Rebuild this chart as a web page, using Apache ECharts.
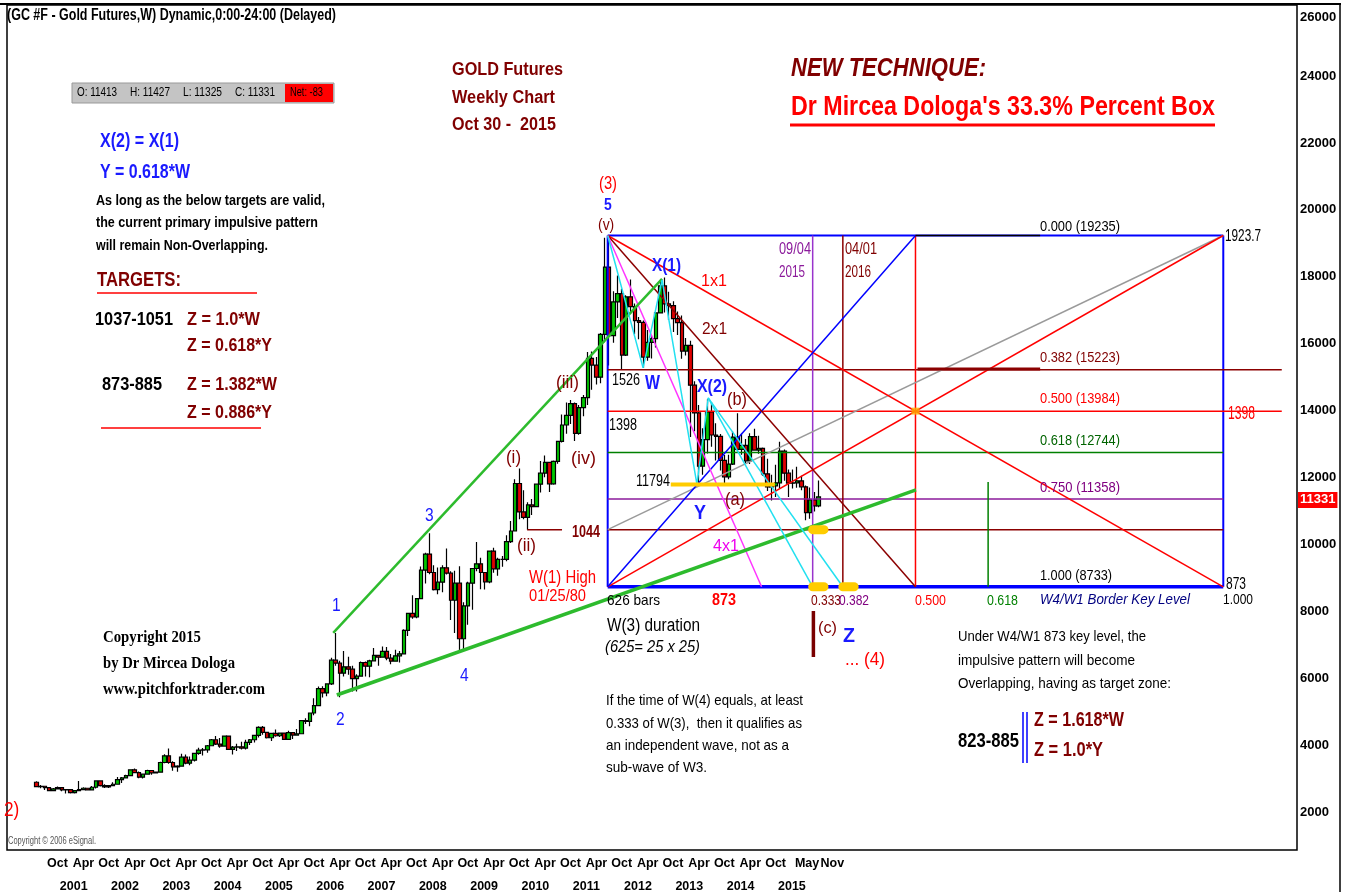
<!DOCTYPE html>
<html><head><meta charset="utf-8">
<script src="https://cdn.jsdelivr.net/npm/echarts@6/dist/echarts.min.js"></script>
<style>html,body{margin:0;padding:0;background:#fff}#c{width:1345px;height:892px}</style>
</head><body><div id="c"></div>
<script>
const FONT = "'Liberation Sans',Arial,sans-serif";
const SERIF = "'Liberation Serif','DejaVu Serif',serif";

// ---- monthly gold futures OHLC, [open, high, low, close] in USD (chart units = USD x 10)
const PRICE_UNIT = 10;
const startYear = 2000, startMonth = 7;
const gold2000 = [[289,292,274,276],[276,281,271,277],[277,277,266,273],[273,274,263,264],[264,272,263,269],[269,276,267,273]];
const gold2001 = [[273,273,262,266],[266,268,255,267],[267,268,255,258],[258,266,255,264],[264,293,264,267],[267,274,265,271],[271,272,264,266],[266,278,265,274],[274,295,270,293],[293,293,276,279],[279,283,272,275],[275,281,272,279]];
const gold2002 = [[279,289,277,283],[283,305,283,297],[297,305,287,302],[302,311,300,309],[309,328,308,326],[326,330,316,318],[318,321,301,304],[304,315,300,313],[313,326,312,324],[324,324,311,317],[317,321,315,319],[319,350,318,348]];
const gold2003 = [[348,373,346,368],[368,390,344,348],[348,352,323,335],[335,340,320,337],[337,374,336,364],[364,372,343,346],[346,366,340,355],[355,376,351,375],[375,392,371,385],[385,391,369,386],[386,400,377,398],[398,418,398,416]];
const gold2004 = [[416,427,400,403],[403,421,392,397],[397,429,395,427],[427,429,386,387],[387,397,372,394],[394,404,382,395],[395,410,387,391],[391,416,387,408],[408,418,400,416],[416,430,408,429],[429,456,423,453],[453,457,431,438]];
const gold2005 = [[438,439,420,422],[422,437,412,435],[435,447,425,428],[428,438,424,436],[436,436,415,417],[417,443,415,437],[437,439,418,430],[430,448,430,434],[434,474,433,473],[473,480,463,471],[471,497,456,496],[496,540,489,518]];
const gold2006 = [[518,575,518,569],[569,576,542,556],[556,585,546,583],[583,661,580,654],[654,735,637,645],[645,652,543,615],[615,681,605,634],[634,664,610,627],[627,637,560,599],[599,612,560,606],[606,650,604,647],[647,650,605,636]];
const gold2007 = [[636,655,603,652],[652,690,650,668],[668,670,637,663],[663,695,663,680],[680,693,654,660],[660,672,642,651],[651,685,651,667],[667,681,647,673],[673,746,673,743],[743,795,726,794],[794,848,778,783],[783,839,779,838]];
const gold2008 = [[838,934,837,923],[923,975,883,971],[971,1033,911,916],[916,938,862,865],[865,931,851,887],[887,938,857,930],[930,988,910,914],[914,920,774,833],[833,921,735,884],[884,935,681,718],[718,827,685,816],[816,888,760,884]];
const gold2009 = [[884,928,805,928],[928,1007,920,942],[942,960,866,916],[916,917,865,888],[888,982,884,980],[980,990,915,927],[927,960,906,955],[955,965,933,955],[955,1027,950,1008],[1008,1070,1004,1040],[1040,1195,1040,1182],[1182,1227,1075,1097]];
const gold2010 = [[1097,1162,1075,1081],[1081,1126,1044,1118],[1118,1136,1088,1113],[1113,1181,1111,1180],[1180,1249,1155,1213],[1213,1266,1201,1245],[1245,1246,1157,1181],[1181,1251,1178,1248],[1248,1310,1241,1308],[1308,1388,1305,1357],[1357,1424,1331,1386],[1386,1432,1360,1421]];
const gold2011 = [[1421,1424,1309,1332],[1332,1417,1328,1409],[1409,1447,1383,1439],[1439,1575,1417,1556],[1556,1577,1462,1536],[1536,1560,1478,1500],[1500,1632,1482,1628],[1628,1917,1604,1829],[1829,1923,1535,1624],[1624,1757,1603,1725],[1725,1804,1677,1750],[1750,1764,1523,1566]];
const gold2012 = [[1566,1745,1563,1740],[1740,1792,1690,1711],[1711,1720,1628,1669],[1669,1680,1613,1664],[1664,1669,1527,1560],[1560,1641,1549,1604],[1604,1625,1556,1615],[1615,1693,1589,1692],[1692,1790,1690,1773],[1773,1798,1693,1719],[1719,1755,1671,1714],[1714,1727,1635,1675]];
const gold2013 = [[1675,1696,1626,1663],[1663,1684,1555,1578],[1578,1617,1565,1595],[1595,1609,1321,1476],[1476,1488,1338,1393],[1393,1417,1180,1234],[1234,1347,1208,1313],[1313,1434,1272,1396],[1396,1426,1292,1327],[1327,1362,1251,1323],[1323,1330,1221,1251],[1251,1267,1182,1202]];
const gold2014 = [[1202,1268,1195,1240],[1240,1338,1237,1321],[1321,1392,1277,1284],[1284,1331,1268,1296],[1296,1315,1240,1250],[1250,1332,1240,1322],[1322,1346,1281,1282],[1282,1325,1271,1287],[1287,1290,1205,1211],[1211,1256,1160,1172],[1172,1208,1131,1175],[1175,1238,1142,1184]];
const gold2015 = [[1184,1307,1168,1279],[1279,1284,1190,1213],[1213,1224,1142,1183],[1183,1224,1167,1184],[1184,1232,1169,1190],[1190,1205,1162,1172],[1172,1176,1072,1095],[1095,1170,1077,1133],[1133,1157,1098,1115],[1115,1191,1111,1142]];
const goldYears = [gold2000,gold2001,gold2002,gold2003,gold2004,gold2005,gold2006,gold2007,gold2008,gold2009,gold2010,gold2011,gold2012,gold2013,gold2014,gold2015];

// ---- axis ticks
const yTickValues = [2000,4000,6000,8000,10000,12000,14000,16000,18000,20000,22000,24000,26000];
const xMonthTimes = [2000.75,2001.25,2001.75,2002.25,2002.75,2003.25,2003.75,2004.25,2004.75,2005.25,2005.75,2006.25,2006.75,2007.25,2007.75,2008.25,2008.75,2009.25,2009.75,2010.25,2010.75,2011.25,2011.75,2012.25,2012.75,2013.25,2013.75,2014.25,2014.75,2015.33,2015.83];
const xMonthLabels = ['Oct','Apr','Oct','Apr','Oct','Apr','Oct','Apr','Oct','Apr','Oct','Apr','Oct','Apr','Oct','Apr','Oct','Apr','Oct','Apr','Oct','Apr','Oct','Apr','Oct','Apr','Oct','Apr','Oct','May','Nov'];
const xYearLabels = [2001,2002,2003,2004,2005,2006,2007,2008,2009,2010,2011,2012,2013,2014,2015];

// ---- percent box (time in years, price in chart units)
const boxTimes = [2011.68, 2023.68];
const boxPrices = [19235, 8733];
const fibLevels = [15223, 13984, 12744, 11358];
const timeRatios = [0.333, 0.382, 0.5, 0.618];
const level1044 = 10440;
const lastClose = 11331;
const levelExtendTo = 2024.82;
// ---- wave structure points
const trendUpper = [[2006.33, 7352], [2012.74, 17937]];
const trendLower = [[2006.40, 5498], [2017.69, 11628]];
const cyanSwings = [[2011.68, 19235], [2012.37, 15276], [2012.74, 17907], [2013.42, 11794], [2013.64, 14379]];
const yLowLevel = [[2012.91, 11794], [2014.94, 11794]];
const ii1044 = [[2010.11, 10440], [2010.79, 10440]];
const green618Top = 11867;
const cMark = [[2015.69, 8010], [2015.69, 6635]];
const darkRedSeg = [[2017.72, 15245], [2020.11, 15245]];

// ---- build candles
const candles = [];
goldYears.forEach((arr, yi) => {
  const year = startYear + yi;
  arr.forEach((o, i) => {
    const m = (yi === 0 ? startMonth : 1) + i;
    const t = year + (m - 0.5) / 12;
    candles.push([t, o[0]*PRICE_UNIT, o[3]*PRICE_UNIT, o[2]*PRICE_UNIT, o[1]*PRICE_UNIT]);
  });
});

const [tL, tR] = boxTimes, [pT, pB] = boxPrices;
const tAt = r => tL + r * (tR - tL);
const tM = tAt(0.5);

const C = {red:'#ff0000', dred:'#8b0000', blue:'#0000ff', green:'#2dbb2d', dgreen:'#008000', purple:'#8b1a9b', cyan:'#22e0f0', mag:'#ff33ff', gray:'#9a9a9a', yel:'#ffcc00'};

const series = [{
  type:'candlestick', data:candles, encode:{x:0, y:[1,2,3,4]}, barWidth:4, z:2, silent:true, animation:false,
  itemStyle:{color:'#00c800', color0:'#e00000', borderColor:'#000', borderColor0:'#000', borderWidth:1.2}
}, {
  type:'line', data:[], silent:true, animation:false, clip:false, z:20,
  markLine:{silent:true, symbol:'none', animation:false, data:[{yAxis:lastClose}], lineStyle:{color:'rgba(0,0,0,0)', width:0},
    label:{show:true, position:'end', distance:7, formatter:String(lastClose), backgroundColor:'#ff0000', color:'#fff', fontWeight:'bold', fontSize:13, fontFamily:FONT, padding:[2,2,1,2]}}
}];
function addLine(pts, color, width, z, extra) {
  series.push({type:'line', data:pts, symbol:'none', silent:true, animation:false, z:z||3,
    lineStyle:Object.assign({color:color, width:width}, extra||{})});
}
// box
addLine([[tL,pT],[tR,pT]], C.blue, 2);
addLine([[tL,pB],[tR,pB]], C.blue, 3.5);
addLine([[tL,pT],[tL,pB]], C.blue, 2);
addLine([[tR,pT],[tR,pB]], C.blue, 2);
addLine([[tM,pT],[2020.11,pT]], '#000', 1.5, 4);
// levels
addLine([[tL,fibLevels[0]],[levelExtendTo,fibLevels[0]]], C.dred, 1.5);
addLine([[tL,fibLevels[1]],[levelExtendTo,fibLevels[1]]], C.red, 1.5);
addLine([[tL,fibLevels[2]],[tR,fibLevels[2]]], C.dgreen, 1.5);
addLine([[tL,fibLevels[3]],[tR,fibLevels[3]]], C.purple, 1.5);
addLine([[tL,level1044],[tR,level1044]], C.dred, 1.5);
addLine(ii1044, C.dred, 1.5);
addLine(darkRedSeg, C.dred, 3, 4);
// time verticals
addLine([[tAt(timeRatios[0]),pT],[tAt(timeRatios[0]),pB]], '#9933cc', 1.5);
addLine([[tAt(timeRatios[1]),pT],[tAt(timeRatios[1]),pB]], C.dred, 1.5);
addLine([[tAt(timeRatios[2]),pT],[tAt(timeRatios[2]),pB]], C.red, 1.5);
addLine([[tAt(timeRatios[3]),green618Top],[tAt(timeRatios[3]),pB]], C.dgreen, 1.5);
// diagonals
addLine([[tL,level1044],[tR,pT]], C.gray, 1.5);
addLine([[tL,pB],[tR,pT]], C.red, 1.5);
addLine([[tL,pT],[tR,pB]], C.red, 1.5);
addLine([[tL,pB],[tM,pT]], C.blue, 1.5);
addLine([[tL,pT],[tM,pB]], C.dred, 1.5);
addLine([[tL,pT],[tAt(0.25),pB]], C.mag, 1.5);
// trends
addLine(trendUpper, C.green, 2.5);
addLine(trendLower, C.green, 3.5);
// cyan swings and fan
addLine(cyanSwings, C.cyan, 1.5);
addLine([cyanSwings[4],[tAt(timeRatios[0]),pB]], C.cyan, 1.5);
addLine([cyanSwings[4],[tAt(timeRatios[1]),pB]], C.cyan, 1.5);
// yellow marks
addLine(yLowLevel, C.yel, 4, 5);
addLine([[tAt(timeRatios[0]),level1044],[tAt(timeRatios[0])+0.22,level1044]], C.yel, 9, 5, {cap:'round'});
addLine([[tAt(timeRatios[0]),pB],[tAt(timeRatios[0])+0.22,pB]], C.yel, 9, 5, {cap:'round'});
addLine([[tAt(timeRatios[1]),pB],[tAt(timeRatios[1])+0.22,pB]], C.yel, 9, 5, {cap:'round'});
addLine(cMark, '#7a0000', 3.5, 5);
series.push({type:'scatter', data:[[tM, fibLevels[1]]], symbol:'rect', symbolSize:[8,7], itemStyle:{color:'#ffb000'}, z:6, silent:true, animation:false});

// ---- annotations (narrow-font look via horizontal scaling)
const mctx = document.createElement('canvas').getContext('2d');
function T(x, y, text, fill, size, weight, opt) {
  opt = opt || {};
  const st = {text:text, fill:fill, fontSize:size, fontWeight:weight||'bold', fontFamily:opt.family||FONT, fontStyle:opt.italic?'italic':'normal', verticalAlign:'middle', align:'left'};
  mctx.font = st.fontStyle + ' ' + st.fontWeight + ' ' + size + 'px ' + st.fontFamily;
  const wMeasured = mctx.measureText(text).width;
  const sx = opt.w ? opt.w / wMeasured : (opt.sx || 0.82);
  return {type:'text', x:x, y:y, scaleX:sx, silent:true, z:100, style:st};
}
function L(x1,y1,x2,y2,stroke,w) { return {type:'line', silent:true, z:90, shape:{x1,y1,x2,y2}, style:{stroke:stroke, lineWidth:w}}; }
const DR = '#800000', BL = '#1a1aff', K = '#000', R = '#ff0000';
const graphics = [
  {type:'rect', silent:true, z:1, shape:{x:7,y:5,width:1290,height:845}, style:{fill:'none', stroke:'#000', lineWidth:1.5}},
  L(0,4,1341,4,'#000',2), L(1340,4,1340,892,'#000',1.5),
  T(7,16,'(GC #F - Gold Futures,W) Dynamic,0:00-24:00 (Delayed)',K,16,'bold',{w:329}),
  {type:'rect', silent:true, z:80, shape:{x:72,y:83,width:262,height:20}, style:{fill:'#c4c4c4', stroke:'#999', lineWidth:1}},
  {type:'rect', silent:true, z:81, shape:{x:285,y:84,width:48,height:18}, style:{fill:'#ff0000'}},
  T(77,93,'O: 11413',K,12,'normal',{w:40}), T(130,93,'H: 11427',K,12,'normal',{w:40}), T(183,93,'L: 11325',K,12,'normal',{w:39}), T(235,93,'C: 11331',K,12,'normal',{w:40}), T(290,93,'Net: -83',K,12,'normal',{w:33}),
  T(100,141,'X(2) = X(1)',BL,20,'bold',{w:79}), T(100,172,'Y = 0.618*W',BL,20,'bold',{w:90}),
  T(96,201,'As long as the below targets are valid,',K,15,'bold',{w:229}), T(96,223,'the current primary impulsive pattern',K,15,'bold',{w:222}), T(96,246,'will remain Non-Overlapping.',K,15,'bold',{w:172}),
  T(97,280,'TARGETS:',DR,20,'bold',{w:84}), L(97,293,257,293,R,1.5),
  T(95,320,'1037-1051',K,19,'bold',{w:78}), T(187,320,'Z = 1.0*W',DR,19,'bold',{w:73}), T(187,346,'Z = 0.618*Y',DR,19,'bold',{w:85}),
  T(102,385,'873-885',K,19,'bold',{w:60}), T(187,385,'Z = 1.382*W',DR,19,'bold',{w:90}), T(187,413,'Z = 0.886*Y',DR,19,'bold',{w:85}), L(101,428,261,428,R,1.5),
  T(452,70,'GOLD Futures',DR,18,'bold',{w:111}), T(452,98,'Weekly Chart',DR,18,'bold',{w:103}), T(452,125,'Oct 30 -  2015',DR,18,'bold',{w:104}),
  T(791,69,'NEW TECHNIQUE:',DR,26,'bold',{italic:true, w:195}),
  T(791,107,"Dr Mircea Dologa's 33.3% Percent Box",R,28,'bold',{w:424}), L(790,125,1215,125,R,3),
  T(599,184,'(3)',R,18,'normal'), T(604,205,'5',BL,17,'bold'), T(598,225,'(v)',DR,17,'normal'),
  T(652,266,'X(1)',BL,19,'bold',{w:29}), T(701,281,'1x1',R,17,'normal',{w:26}), T(702,329,'2x1',DR,17,'normal',{w:25}),
  T(779,250,'09/04','#8b1a9b',16,'normal',{w:32}), T(779,273,'2015','#8b1a9b',16,'normal',{w:26}),
  T(845,250,'04/01',DR,16,'normal',{w:32}), T(845,273,'2016',DR,16,'normal',{w:26}),
  T(1040,227,'0.000 (19235)',K,15,'normal',{w:80}), T(1225,236,'1923.7',K,17,'normal',{w:36}),
  T(1040,358,'0.382 (15223)',DR,15,'normal',{w:80}), T(1040,399,'0.500 (13984)',R,15,'normal',{w:80}), T(1228,414,'1398',R,18,'normal',{w:27}),
  T(1040,441,'0.618 (12744)','#006400',15,'normal',{w:80}), T(1040,488,'0.750 (11358)','#800080',15,'normal',{w:80}), T(1040,576,'1.000 (8733)',K,15,'normal',{w:72}),
  T(1226,585,'873',K,16,'normal',{w:20}), T(1223,600,'1.000',K,15,'normal',{w:30}),
  T(612,381,'1526',K,16,'normal',{w:28}), T(645,383,'W',BL,20,'bold',{w:15}), T(697,387,'X(2)',BL,19,'bold',{w:30}), T(727,400,'(b)',DR,18,'normal',{w:20}),
  T(609,426,'1398',K,16,'normal',{w:28}), T(636,482,'11794',K,16,'normal',{w:34}), T(725,500,'(a)',DR,18,'normal',{w:20}), T(694,513,'Y',BL,20,'bold',{w:12}), T(713,546,'4x1','#ee00ee',17,'normal',{w:26}),
  T(556,383,'(iii)',DR,18,'normal',{w:23}), T(506,458,'(i)',DR,18,'normal',{w:15}), T(571,459,'(iv)',DR,18,'normal',{w:25}), T(517,546,'(ii)',DR,18,'normal',{w:19}),
  T(572,533,'1044',DR,16,'bold',{w:28}),
  T(529,578,'W(1) High',R,18,'normal',{w:67}), T(529,597,'01/25/80',R,16,'normal',{w:57}),
  T(607,601,'626 bars',K,15,'normal',{w:53}), T(712,601,'873',R,16,'bold',{w:24}), T(811,601,'0.333',DR,15,'normal',{w:30}), T(839,601,'0.382','#800080',15,'normal',{w:30}),
  T(915,601,'0.500',R,15,'normal',{w:31}), T(987,601,'0.618','#008000',15,'normal',{w:31}),
  T(1040,600,'W4/W1 Border Key Level','#000080',15,'normal',{italic:true, w:150}),
  T(607,626,'W(3) duration',K,18,'normal',{w:93}), T(605,648,'(625= 25 x 25)',K,16,'normal',{italic:true, w:95}),
  T(818,628,'(c)',DR,17,'normal',{w:19}), T(843,636,'Z',BL,20,'bold',{w:12}), T(845,660,'... (4)',R,18,'normal',{w:40}),
  T(606,701,'If the time of W(4) equals, at least',K,15,'normal',{w:197}), T(606,724,'0.333 of W(3),  then it qualifies as',K,15,'normal',{w:196}),
  T(606,746,'an independent wave, not as a',K,15,'normal',{w:183}), T(606,768,'sub-wave of W3.',K,15,'normal',{w:101}),
  T(958,637,'Under W4/W1 873 key level, the',K,15,'normal',{w:188}), T(958,661,'impulsive pattern will become',K,15,'normal',{w:177}), T(958,684,'Overlapping, having as target zone:',K,15,'normal',{w:213}),
  T(958,741,'823-885',K,21,'bold',{w:61}), L(1023,712,1023,763,'#0000ff',1.5), L(1027,712,1027,763,'#0000ff',1.5),
  T(1034,720,'Z = 1.618*W',DR,20,'bold',{w:90}), T(1034,750,'Z = 1.0*Y',DR,20,'bold',{w:69}),
  T(103,638,'Copyright 2015',K,16,'bold',{family:SERIF, w:98}), T(103,664,'by Dr Mircea Dologa',K,16,'bold',{family:SERIF, w:132}), T(103,690,'www.pitchforktrader.com',K,16,'bold',{family:SERIF, w:162}),
  T(332,606,'1',BL,19,'normal'), T(336,720,'2',BL,19,'normal'), T(425,516,'3',BL,19,'normal'), T(460,676,'4',BL,19,'normal'),
  T(4,810,'2)',R,21,'normal'),
  T(8,841,'Copyright © 2006 eSignal.','#555',10,'normal',{w:88})
];

const chart = echarts.init(document.getElementById('c'), null, {renderer:'canvas'});
chart.setOption({
  animation:false,
  backgroundColor:'#fff',
  grid:{left:8.5, right:54, top:9.2, bottom:46.55, containLabel:false, outerBoundsMode:'none'},
  xAxis:{type:'value', min:2000, max:2025, splitLine:{show:false}, axisLine:{show:false}, axisTick:{show:false},
    axisLabel:{customValues:xMonthTimes.concat(xYearLabels), hideOverlap:false, margin:7, align:'left', color:'#000', fontSize:12.5, fontWeight:'bold', fontFamily:FONT, lineHeight:23,
      formatter:function(v){
        for (let i=0;i<xMonthTimes.length;i++) if (Math.abs(v-xMonthTimes[i])<1e-6) return xMonthLabels[i];
        return '\n' + v;
      }}},
  yAxis:{type:'value', position:'right', min:1000, max:26000, splitLine:{show:false}, axisLine:{show:false}, axisTick:{show:false},
    axisLabel:{customValues:yTickValues, margin:9, align:'left', color:'#000', fontSize:13, fontWeight:'bold', fontFamily:FONT,
      formatter:function(v){ return v === 26000 ? '{t|' + v + '}' : String(v); },
      rich:{t:{padding:[16,0,0,0], fontSize:13, fontWeight:'bold', fontFamily:FONT, color:'#000'}}}},
  series:series,
  graphic:graphics
});
</script></body></html>
